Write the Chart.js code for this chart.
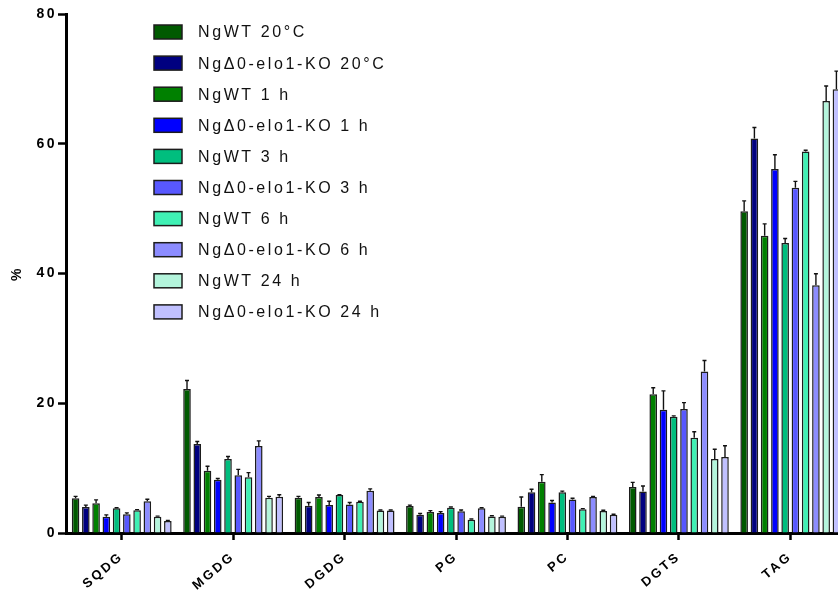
<!DOCTYPE html>
<html>
<head>
<meta charset="utf-8">
<script src="https://cdn.jsdelivr.net/npm/chart.js@4.4.1/dist/chart.umd.min.js"></script>
<style>
  html, body { margin: 0; padding: 0; background: #fff; overflow: hidden; }
  #wrap { width: 838px; height: 599px; overflow: hidden; }
</style>
</head>
<body>
<div id="wrap"><canvas id="lipidChart" width="850" height="599"></canvas></div>
<script>
const categories = ['SQDG', 'MGDG', 'DGDG', 'PG', 'PC', 'DGTS', 'TAG'];
const seriesNames = [
    'NgWT 20°C', 'NgΔ0-elo1-KO 20°C',
    'NgWT 1 h', 'NgΔ0-elo1-KO 1 h',
    'NgWT 3 h', 'NgΔ0-elo1-KO 3 h',
    'NgWT 6 h', 'NgΔ0-elo1-KO 6 h',
    'NgWT 24 h', 'NgΔ0-elo1-KO 24 h'
];
const seriesColors = [
    '#005a00', '#000080', '#008000', '#0000ff', '#00be7e',
    '#5858ff', '#40f0b4', '#8c8cff', '#b4f5dc', '#c0c0ff'
];

// mean values per series, in category order
const wt20  = [5.35, 22.2, 5.45, 4.15, 4.05, 7.1, 49.6];
const ko20  = [4.0, 13.7, 4.2, 2.8, 6.3, 6.4, 60.8];
const wt1   = [4.6, 9.6, 5.55, 3.25, 7.9, 21.4, 45.8];
const ko1   = [2.5, 8.2, 4.3, 3.1, 4.7, 19.0, 56.1];
const wt3   = [3.8, 11.4, 5.85, 3.9, 6.3, 17.9, 44.7];
const ko3   = [2.9, 8.9, 4.4, 3.35, 5.15, 19.1, 53.2];
const wt6   = [3.5, 8.6, 4.8, 2.05, 3.65, 14.7, 58.8];
const ko6   = [4.9, 13.4, 6.5, 3.8, 5.55, 24.9, 38.2];
const wt24  = [2.5, 5.45, 3.45, 2.55, 3.4, 11.4, 66.6];
const ko24  = [1.85, 5.6, 3.45, 2.5, 2.8, 11.7, 68.4];

// upper error (SD) per series
const wt20Err = [0.3, 1.3, 0.2, 0.15, 1.5, 0.7, 1.6];
const ko20Err = [0.3, 0.4, 0.5, 0.2, 0.45, 0.85, 1.7];
const wt1Err  = [0.5, 0.7, 0.3, 0.2, 1.1, 1.0, 1.85];
const ko1Err  = [0.3, 0.2, 0.6, 0.2, 0.3, 2.9, 2.2];
const wt3Err  = [0.1, 0.4, 0.05, 0.1, 0.15, 0.15, 0.7];
const ko3Err  = [0.2, 0.9, 0.3, 0.2, 0.2, 1.0, 1.0];
const wt6Err  = [0.1, 0.7, 0.1, 0.1, 0.1, 0.9, 0.2];
const ko6Err  = [0.3, 0.8, 0.3, 0.1, 0.1, 1.7, 1.75];
const wt24Err = [0.1, 0.2, 0.1, 0.1, 0.1, 1.5, 2.3];
const ko24Err = [0.1, 0.3, 0.1, 0.1, 0.1, 1.75, 2.8];

const yTicks = [0, 20, 40, 60, 80];

const allValues = [wt20, ko20, wt1, ko1, wt3, ko3, wt6, ko6, wt24, ko24];
const allErrors = [wt20Err, ko20Err, wt1Err, ko1Err, wt3Err, ko3Err, wt6Err, ko6Err, wt24Err, ko24Err];

const FONT = '"Liberation Sans", Arial, sans-serif';

const datasets = allValues.map((vals, i) => ({
    label: seriesNames[i],
    data: vals,
    errors: allErrors[i],
    backgroundColor: seriesColors[i],
    borderColor: '#1c1c1c',
    borderWidth: 1.5,
    borderSkipped: 'start',
    categoryPercentage: 0.92,
    barPercentage: 0.74
}));

// draws upper error bars from each bar top
const errorBars = {
    id: 'errorBars',
    afterDatasetsDraw(chart) {
        const ctx = chart.ctx;
        const yScale = chart.scales.y;
        ctx.save();
        ctx.strokeStyle = '#111';
        ctx.lineWidth = 1.4;
        chart.data.datasets.forEach((ds, i) => {
            const meta = chart.getDatasetMeta(i);
            meta.data.forEach((bar, j) => {
                const top = yScale.getPixelForValue(ds.data[j] + ds.errors[j]);
                ctx.beginPath();
                ctx.moveTo(bar.x, bar.y);
                ctx.lineTo(bar.x, top);
                ctx.moveTo(bar.x - 2, top);
                ctx.lineTo(bar.x + 2, top);
                ctx.stroke();
            });
        });
        ctx.restore();
    }
};

// letter spaced axis text (y axis drawn before bars, x axis after), then the legend
const spacedText = {
    id: 'spacedText',
    beforeDraw(chart) {
        chart.ctx.letterSpacing = '2.5px';
    },
    afterDatasetsDraw(chart) {
        chart.ctx.letterSpacing = '5px';
    },
    afterDraw(chart) {
        const ctx = chart.ctx;
        ctx.save();
        ctx.letterSpacing = '2.6px';
        ctx.font = '16px ' + FONT;
        ctx.textBaseline = 'middle';
        ctx.textAlign = 'left';
        chart.data.datasets.forEach((ds, i) => {
            const y = 32 + i * 31.1;
            ctx.fillStyle = ds.backgroundColor;
            ctx.strokeStyle = '#1c1c1c';
            ctx.lineWidth = 1.5;
            ctx.fillRect(154, y - 7, 28, 14);
            ctx.strokeRect(154, y - 7, 28, 14);
            ctx.fillStyle = '#111';
            ctx.fillText(ds.label, 198, y + 1);
        });
        ctx.restore();
        ctx.letterSpacing = '0px';
    }
};

const chart = new Chart(document.getElementById('lipidChart'), {
    type: 'bar',
    data: { labels: categories, datasets: datasets },
    options: {
        responsive: false,
        animation: false,
        layout: { padding: { top: 14, right: 4, left: 0, bottom: 0 } },
        plugins: {
            legend: { display: false },
            tooltip: { enabled: false }
        },
        scales: {
            x: {
                z: 1,
                afterFit(scale) { scale.height = 66; },
                border: { display: true, color: '#000', width: 3 },
                grid: {
                    display: true,
                    drawOnChartArea: false,
                    offset: false,
                    tickLength: 7,
                    tickWidth: 2.5,
                    tickColor: '#000'
                },
                ticks: {
                    autoSkip: false,
                    minRotation: 40,
                    maxRotation: 40,
                    padding: 9,
                    color: '#000',
                    font: { family: FONT, size: 13, weight: 'bold' }
                }
            },
            y: {
                min: 0,
                max: 80,
                afterFit(scale) { scale.width = 66; },
                afterBuildTicks(scale) {
                    scale.ticks = yTicks.map(v => ({ value: v }));
                },
                border: { display: true, color: '#000', width: 3 },
                grid: {
                    display: true,
                    drawOnChartArea: false,
                    tickLength: 8,
                    tickWidth: 2.5,
                    tickColor: '#000'
                },
                ticks: {
                    padding: 1,
                    color: '#000',
                    font: { family: FONT, size: 14, weight: 'bold' }
                },
                title: {
                    display: true,
                    text: '%',
                    color: '#000',
                    padding: { top: 9, bottom: 0 },
                    font: { family: FONT, size: 14, weight: 'bold' }
                }
            }
        }
    },
    plugins: [errorBars, spacedText]
});
</script>
</body>
</html>
